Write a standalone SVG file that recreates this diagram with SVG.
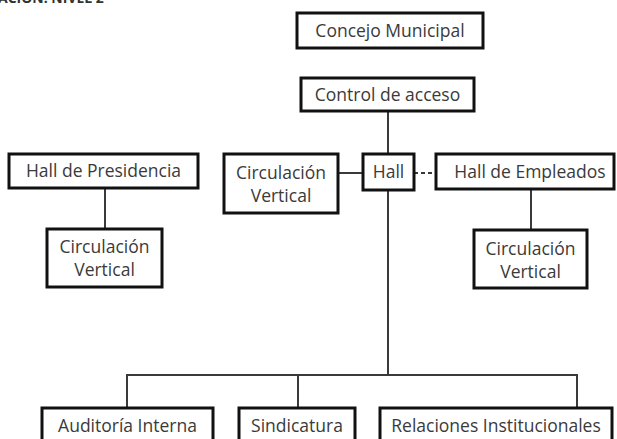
<svg xmlns="http://www.w3.org/2000/svg" width="617" height="439" viewBox="0 0 617 439">
<style>
.box{fill:#fff;stroke:#111;stroke-width:3}
.t{font-family:"Open Sans","Noto Sans","DejaVu Sans",sans-serif;font-size:17.5px;fill:#3a3a3a;text-anchor:middle;dominant-baseline:central}
.ln{stroke:#3a3a3a;stroke-width:2;fill:none}
.dash{stroke:#3a3a3a;stroke-width:2;stroke-dasharray:4 3;fill:none}
.title{font-family:"Open Sans","Noto Sans",sans-serif;font-size:14px;font-weight:bold;fill:#333}
</style>
<rect width="617" height="439" fill="#fff"/>
<text class="title" x="-2" y="3">ACIÓN: NIVEL 2</text>
<g id="connectors">
<line class="ln" x1="388" y1="111" x2="388" y2="154"/>
<line class="ln" x1="388" y1="190" x2="388" y2="375"/>
<line class="ln" x1="338" y1="173" x2="363" y2="173"/>
<line class="dash" x1="414" y1="173" x2="436" y2="173"/>
<line class="ln" x1="105" y1="188" x2="105" y2="229"/>
<line class="ln" x1="531" y1="189" x2="531" y2="230"/>
<polyline class="ln" points="127,408 127,375 577,375 577,408"/>
<line class="ln" x1="298" y1="375" x2="298" y2="408"/>
</g>
<g id="concejo"><rect class="box" x="297" y="13" width="186" height="35"/><text class="t" x="390" y="30">Concejo Municipal</text></g>
<g id="control"><rect class="box" x="301" y="78" width="173" height="33"/><text class="t" x="387.5" y="94">Control de acceso</text></g>
<g id="hall-presidencia"><rect class="box" x="9" y="154" width="189" height="34"/><text class="t" x="103.5" y="170">Hall de Presidencia</text></g>
<g id="circ-izq"><rect class="box" x="47" y="229" width="115" height="58"/><text class="t" x="104.5" y="246">Circulación</text><text class="t" x="104.5" y="269">Vertical</text></g>
<g id="circ-centro"><rect class="box" x="224" y="154" width="114" height="59"/><text class="t" x="281" y="172">Circulación</text><text class="t" x="281" y="195">Vertical</text></g>
<g id="hall"><rect class="box" x="363" y="154" width="51" height="36"/><text class="t" x="388.5" y="171">Hall</text></g>
<g id="hall-empleados"><rect class="box" x="436" y="154" width="178" height="35"/><text class="t" x="530" y="171">Hall de Empleados</text></g>
<g id="circ-der"><rect class="box" x="474" y="230" width="113" height="58"/><text class="t" x="530.5" y="248">Circulación</text><text class="t" x="530.5" y="271">Vertical</text></g>
<g id="auditoria"><rect class="box" x="42" y="408" width="171" height="40"/><text class="t" x="127.5" y="425">Auditoría Interna</text></g>
<g id="sindicatura"><rect class="box" x="239" y="408" width="116" height="40"/><text class="t" x="297" y="425">Sindicatura</text></g>
<g id="relaciones"><rect class="box" x="380" y="408" width="232" height="40"/><text class="t" x="496" y="425">Relaciones Institucionales</text></g>
</svg>
